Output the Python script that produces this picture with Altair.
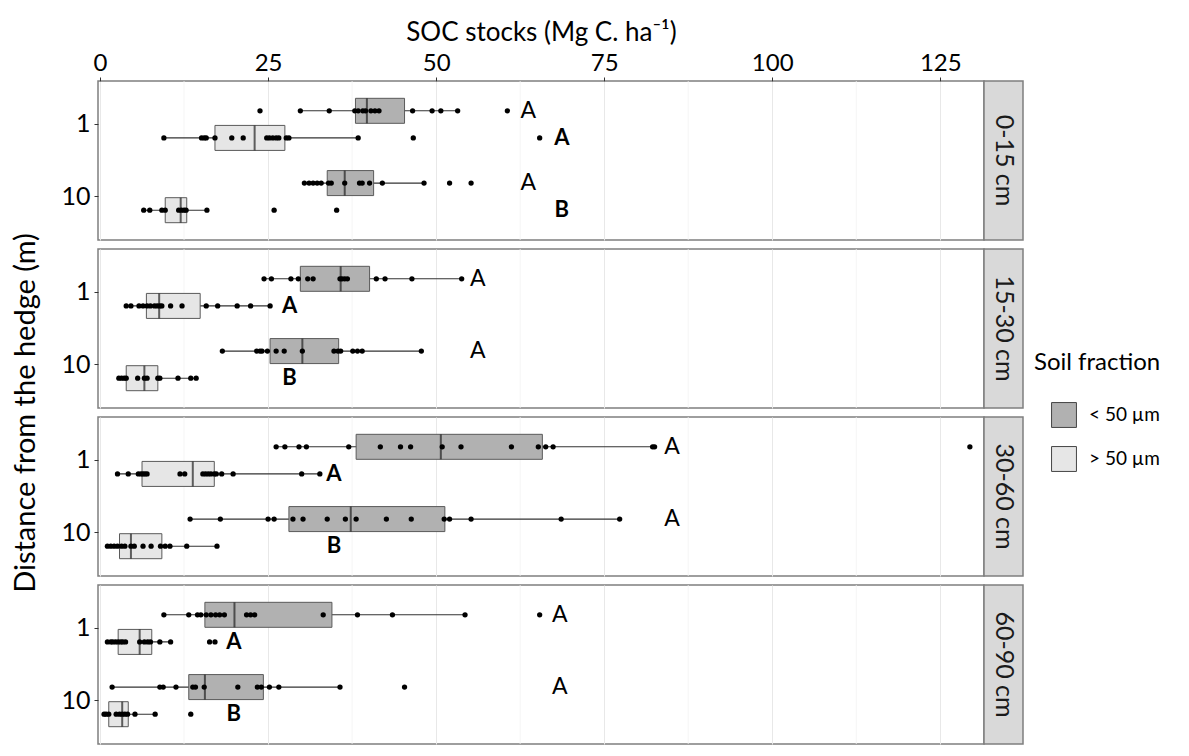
import altair as alt
import pandas as pd

FINE = "< 50 µm"
COARSE = "> 50 µm"
depths = ["0-15 cm", "15-30 cm", "30-60 cm", "60-90 cm"]
distances = ["1", "10"]
fractions = [FINE, COARSE]

# box statistics (depth, distance, fraction)
box_depth = ["0-15 cm"] * 4 + ["15-30 cm"] * 4 + ["30-60 cm"] * 4 + ["60-90 cm"] * 4
box_dist = ["1", "1", "10", "10"] * 4
box_frac = [FINE, COARSE, FINE, COARSE] * 4
box_q1 = [38.0, 17.1, 33.8, 9.7, 29.8, 6.9, 25.3, 3.9, 38.1, 6.25, 28.1, 2.9, 15.6, 2.7, 13.2, 1.3]
box_med = [39.7, 23.0, 36.4, 12.0, 35.8, 8.8, 30.1, 6.6, 50.7, 13.8, 37.3, 4.6, 20.0, 5.9, 15.6, 3.3]
box_q3 = [45.3, 27.5, 40.7, 12.9, 40.1, 14.9, 35.5, 8.6, 65.8, 17.0, 51.3, 9.2, 34.5, 7.7, 24.3, 4.2]
box_lo = [29.8, 9.5, 30.4, 6.5, 24.4, 3.9, 18.2, 2.8, 26.2, 2.6, 13.4, 1.1, 9.5, 1.1, 1.8, 0.6]
box_hi = [53.2, 38.4, 48.2, 15.9, 53.8, 25.3, 47.8, 14.3, 82.5, 32.7, 77.3, 17.4, 54.3, 10.5, 35.7, 8.2]

# individual observations
pts_0_15_d1_fine = [23.8, 29.8, 34.1, 37.9, 38.4, 39.1, 39.5, 40.3, 40.9, 41.5, 46.5, 49.4, 50.7, 53.2, 60.6]
pts_0_15_d1_coarse = [9.5, 15.1, 15.5, 15.8, 17.1, 19.6, 21.3, 24.8, 25.2, 25.7, 26.2, 26.6, 27.7, 28.1, 38.4, 46.6, 65.4]
pts_0_15_d10_fine = [30.4, 31.1, 31.7, 32.3, 32.9, 34.0, 34.4, 36.4, 38.6, 39.0, 40.1, 42.0, 48.2, 52.0, 55.2]
pts_0_15_d10_coarse = [6.5, 7.4, 9.2, 9.7, 11.7, 12.1, 12.5, 12.8, 15.9, 25.9, 35.2]
pts_15_30_d1_fine = [24.4, 25.5, 28.4, 29.5, 30.9, 31.7, 35.7, 36.0, 36.4, 36.8, 41.1, 42.4, 46.4, 53.8]
pts_15_30_d1_coarse = [3.9, 4.6, 5.8, 6.4, 7.0, 7.5, 8.1, 8.5, 8.9, 9.2, 10.5, 12.2, 15.8, 17.5, 20.4, 22.4, 25.3]
pts_15_30_d10_fine = [18.2, 23.3, 23.8, 24.1, 24.9, 26.2, 27.4, 30.1, 34.8, 35.4, 35.8, 37.6, 38.3, 39.0, 47.8]
pts_15_30_d10_coarse = [2.8, 3.2, 3.6, 3.9, 5.6, 6.6, 7.0, 8.6, 8.9, 11.6, 13.5, 14.3]
pts_30_60_d1_fine = [26.2, 27.5, 29.6, 30.7, 37.0, 41.7, 44.7, 46.2, 50.9, 53.7, 61.2, 65.2, 66.3, 67.4, 82.2, 82.5, 129.4]
pts_30_60_d1_coarse = [2.6, 4.2, 5.7, 6.1, 6.4, 6.7, 7.0, 11.9, 12.6, 15.3, 15.7, 16.1, 16.5, 17.0, 17.3, 18.1, 19.8, 30.0, 32.7]
pts_30_60_d10_fine = [13.4, 17.9, 25.0, 25.9, 28.7, 30.2, 33.8, 36.5, 38.1, 42.6, 46.3, 51.2, 52.0, 55.2, 68.6, 77.3]
pts_30_60_d10_coarse = [1.1, 1.6, 2.1, 2.6, 3.2, 3.7, 4.6, 5.1, 6.4, 7.6, 9.0, 9.7, 10.4, 12.9, 17.4]
pts_60_90_d1_fine = [9.5, 13.2, 14.5, 15.0, 15.8, 16.5, 17.2, 17.8, 18.5, 21.8, 22.4, 23.0, 33.2, 38.3, 43.5, 54.3, 65.4]
pts_60_90_d1_coarse = [1.1, 1.6, 1.9, 2.3, 2.7, 3.1, 3.4, 3.8, 5.9, 6.6, 7.1, 7.5, 8.9, 10.5, 16.3, 17.1]
pts_60_90_d10_fine = [1.8, 8.9, 9.4, 11.3, 13.8, 14.2, 15.5, 20.5, 23.4, 24.0, 25.2, 26.6, 35.7, 45.3]
pts_60_90_d10_coarse = [0.6, 0.9, 1.3, 2.4, 2.9, 3.3, 3.7, 4.1, 5.2, 8.2, 13.5]

point_groups = [
    ("0-15 cm", "1", FINE, pts_0_15_d1_fine), ("0-15 cm", "1", COARSE, pts_0_15_d1_coarse),
    ("0-15 cm", "10", FINE, pts_0_15_d10_fine), ("0-15 cm", "10", COARSE, pts_0_15_d10_coarse),
    ("15-30 cm", "1", FINE, pts_15_30_d1_fine), ("15-30 cm", "1", COARSE, pts_15_30_d1_coarse),
    ("15-30 cm", "10", FINE, pts_15_30_d10_fine), ("15-30 cm", "10", COARSE, pts_15_30_d10_coarse),
    ("30-60 cm", "1", FINE, pts_30_60_d1_fine), ("30-60 cm", "1", COARSE, pts_30_60_d1_coarse),
    ("30-60 cm", "10", FINE, pts_30_60_d10_fine), ("30-60 cm", "10", COARSE, pts_30_60_d10_coarse),
    ("60-90 cm", "1", FINE, pts_60_90_d1_fine), ("60-90 cm", "1", COARSE, pts_60_90_d1_coarse),
    ("60-90 cm", "10", FINE, pts_60_90_d10_fine), ("60-90 cm", "10", COARSE, pts_60_90_d10_coarse),
]

# significance letters
letter_text = ["A", "A", "A", "B"] * 4
letter_x = [63.7, 68.7, 63.7, 68.7, 56.2, 28.2, 56.2, 28.2, 85.1, 34.8, 85.1, 34.8, 68.4, 19.9, 68.4, 19.9]

minor_grid = [12.5, 37.5, 62.5, 87.5, 112.5]
major_ticks = [0, 25, 50, 75, 100, 125]

box_df = pd.DataFrame({"depth": box_depth, "dist": box_dist, "frac": box_frac,
                       "q1": box_q1, "med": box_med, "q3": box_q3, "lo": box_lo, "hi": box_hi})
rows = []
for d, dist, fr, vals in point_groups:
    for v in vals:
        rows.append({"depth": d, "dist": dist, "frac": fr, "value": v})
pts_df = pd.DataFrame(rows)
let_df = pd.DataFrame({"depth": box_depth, "dist": box_dist, "frac": box_frac,
                       "x": letter_x, "label": letter_text})
grid_df = pd.DataFrame({"g": minor_grid})

FONT = "Lato"
H = 159
W = 886
SPACING = 9

xscale = alt.Scale(domain=[-0.3, 131.5], nice=False, zero=False)
yscale = alt.Scale(domain=distances, paddingInner=0.25, paddingOuter=0.225)
yoff = alt.YOffset("frac:N", scale=alt.Scale(domain=fractions, paddingInner=0, paddingOuter=0))
fill_scale = alt.Scale(domain=fractions, range=["#b1b1b1", "#e6e6e6"])

cells = []
for i, d in enumerate(depths):
    if i == 0:
        xaxis = alt.Axis(orient="top", values=major_ticks, title="SOC stocks (Mg C. ha⁻¹)",
                         labelFontSize=24, titleFontSize=26, titleFontWeight="normal",
                         labelColor="#000", titleColor="#000", tickColor="#333", tickSize=4,
                         labelPadding=2, titlePadding=6, domain=False, gridColor="#e8e8e8",
                         labelFlush=False)
    else:
        xaxis = alt.Axis(orient="top", values=major_ticks, title=None, labels=False, ticks=False,
                         domain=False, gridColor="#e8e8e8")
    if i == 1:
        yaxis = alt.Axis(title="Distance from the hedge (m)", titleFontSize=29, titleFontWeight="normal",
                         titleColor="#000", labelColor="#000", labelFontSize=25, tickColor="#333",
                         tickSize=4, labelPadding=4, domain=False, gridColor="#ebebeb",
                         titleX=-58, titleY=H + SPACING / 2, titleBaseline="bottom", titleAngle=-90)
    else:
        yaxis = alt.Axis(title=None, labelColor="#000", labelFontSize=25, tickColor="#333",
                         tickSize=4, labelPadding=4, domain=False, gridColor="#ebebeb")

    X = lambda f, ax=xaxis: alt.X(f, scale=xscale, axis=ax)
    Y = alt.Y("dist:N", scale=yscale, axis=yaxis)
    filt = alt.datum.depth == d

    grid = alt.Chart(grid_df).mark_rule(color="#f2f2f2", strokeWidth=0.8).encode(
        x=alt.X("g:Q", scale=xscale, axis=xaxis))
    whisk = alt.Chart(box_df).transform_filter(filt).mark_rule(color="#333", strokeWidth=1.1).encode(
        x=X("lo:Q"), x2="hi:Q", y=Y, yOffset=yoff)
    box = alt.Chart(box_df).transform_filter(filt).mark_bar(
        height=25, stroke="#5a5a5a", strokeWidth=1).encode(
        x=X("q1:Q"), x2="q3:Q", y=Y, yOffset=yoff,
        fill=alt.Fill("frac:N", scale=fill_scale,
                      legend=alt.Legend(title="Soil fraction", orient="none", legendX=936, legendY=270,
                                        titleFontSize=24, titleFontWeight="normal", titleColor="#000",
                                        labelFontSize=19, labelColor="#000", symbolType="square",
                                        symbolSize=620, symbolStrokeColor="#444", symbolStrokeWidth=1,
                                        symbolOffset=17, rowPadding=14, titlePadding=27,
                                        labelOffset=12)))
    med = alt.Chart(box_df).transform_filter(filt).mark_tick(
        color="#222", size=25, thickness=2, orient="vertical").encode(
        x=X("med:Q"), y=Y, yOffset=yoff)
    pts = alt.Chart(pts_df).transform_filter(filt).mark_circle(color="#000", opacity=1, size=28).encode(
        x=X("value:Q"), y=Y, yOffset=yoff)
    txt_n = alt.Chart(let_df).transform_filter(filt & (alt.datum.frac == FINE)).mark_text(
        fontSize=23, font=FONT, color="#000", align="center", baseline="middle").encode(
        x=X("x:Q"), y=Y, yOffset=yoff, text="label:N")
    txt_b = alt.Chart(let_df).transform_filter(filt & (alt.datum.frac == COARSE)).mark_text(
        fontSize=22, font=FONT, fontWeight="bold", color="#000", align="center", baseline="middle").encode(
        x=X("x:Q"), y=Y, yOffset=yoff, text="label:N")

    panel = alt.layer(grid, whisk, box, med, pts, txt_n, txt_b).properties(
        width=W, height=H, view=alt.ViewBackground(stroke="#7f7f7f", strokeWidth=1.5, fill="white"))
    strip = alt.Chart(pd.DataFrame({"depth": [d]})).mark_text(
        angle=90, fontSize=25, font=FONT, color="#1a1a1a", align="center", baseline="middle").encode(
        x=alt.value(19.5), y=alt.value(H / 2), text="depth:N").properties(
        width=39, height=H, view=alt.ViewBackground(fill="#d9d9d9", stroke="#7f7f7f", strokeWidth=1.5))
    cells.append(panel)
    cells.append(strip)

chart = alt.concat(*cells, columns=2, spacing={"row": SPACING, "column": 0}, bounds="flush").properties(
    padding={"left": 2, "top": 10, "right": 0, "bottom": 0}
).configure(font=FONT).configure_axis(labelFont=FONT, titleFont=FONT).configure_legend(
    labelFont=FONT, titleFont=FONT)

chart.save("out.html", embed_options={"renderer": "svg", "actions": False})
